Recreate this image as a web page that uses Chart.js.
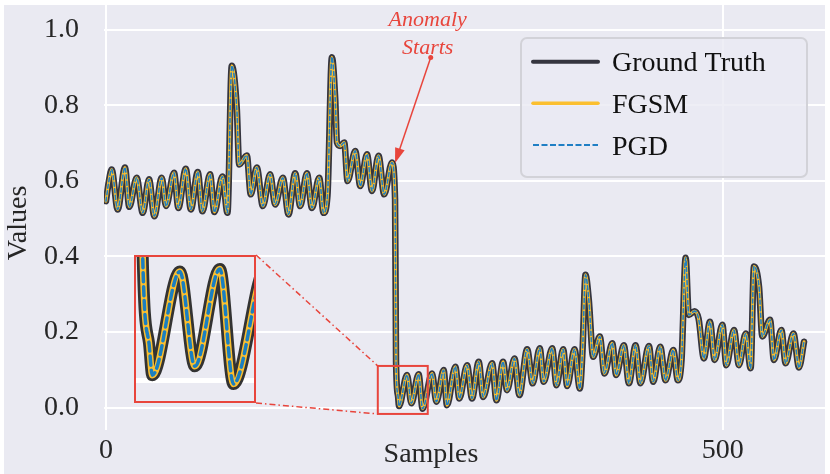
<!DOCTYPE html>
<html>
<head>
<meta charset="utf-8">
<script src="https://cdn.jsdelivr.net/npm/chart.js@4.4.0/dist/chart.umd.min.js"></script>
<style>
  html, body { margin: 0; padding: 0; background: #fff; }
  #wrap { position: relative; width: 830px; height: 474px; }
  #main { position: absolute; left: 0; top: 0; width: 830px; height: 474px; }
  #inset { position: absolute; }
</style>
</head>
<body>
<div id="wrap">
  <canvas id="main" width="830" height="474"></canvas>
  <canvas id="inset"></canvas>
</div>
<script>
/* data: turning points of the signal */
var samples = [
  0, 2.4, 4.6, 9.5, 15.4, 18.9, 24.9, 29.8, 34.9, 39.2, 45.2, 48.7, 55.2, 58.7, 64.7, 68.8,
  74.4, 78.2, 84.4, 87.9, 94.4, 98.5, 102.0, 106.1, 108.0, 114.2, 117.4, 122.3, 127.2, 133.1,
  137.2, 143.4, 148.0, 153.4, 157.5, 162.9, 167.0, 172.9, 176.4, 179.6, 183.2, 185.9, 187.3,
  189.9, 193.2, 195.9, 202.1, 206.2, 211.6, 215.7, 221.0, 225.6, 231.9, 234.4, 235.2, 236.8,
  237.6, 244.1, 247.6, 253.5, 256.7, 264.4, 267.9, 273.8, 276.5, 283.3, 286.5, 292.8, 296.8,
  302.2, 305.8, 313.1, 316.6, 322.0, 325.2, 331.2, 335.2, 341.5, 346.0, 351.7, 354.9, 361.8,
  365.3, 370.7, 374.0, 379.9, 384.2, 386.4, 388.8, 391.5, 395.0, 400.4, 404.2, 410.5, 413.7,
  419.9, 424.0, 429.4, 433.4, 440.2, 443.7, 449.4, 453.7, 460.0, 463.7, 466.7, 470.0, 472.6,
  477.3, 480.5, 484.8, 489.7, 493.5, 499.8, 503.0, 509.2, 513.2, 518.7, 522.7, 525.4, 529.5,
  532.2, 538.4, 541.6, 547.6, 551.1, 557.4, 561.9, 566.0
];
var groundTruth = [
  0.546, 0.600, 0.630, 0.524, 0.635, 0.531, 0.608, 0.515, 0.604, 0.506, 0.608, 0.533, 0.621, 0.528, 0.632, 0.524,
  0.623, 0.519, 0.617, 0.517, 0.611, 0.515, 0.904, 0.790, 0.643, 0.667, 0.564, 0.635, 0.533, 0.617,
  0.537, 0.608, 0.511, 0.620, 0.533, 0.620, 0.528, 0.608, 0.515, 0.560, 0.927, 0.816, 0.701,
  0.692, 0.701, 0.599, 0.679, 0.586, 0.670, 0.573, 0.666, 0.564, 0.648, 0.550, 0.120, 0.030,
  0.004, 0.086, 0.011, 0.088, -0.003, 0.090, 0.015, 0.099, 0.006, 0.108, 0.024, 0.112, 0.024,
  0.121, 0.028, 0.117, 0.019, 0.121, 0.046, 0.130, 0.033, 0.154, 0.064, 0.157, 0.068, 0.157,
  0.059, 0.154, 0.057, 0.154, 0.050, 0.150, 0.351, 0.285, 0.134, 0.188, 0.090, 0.170, 0.086,
  0.165, 0.064, 0.165, 0.064, 0.163, 0.068, 0.161, 0.072, 0.152, 0.072, 0.126, 0.396, 0.245,
  0.255, 0.235, 0.130, 0.227, 0.126, 0.219, 0.112, 0.205, 0.112, 0.196, 0.104, 0.373, 0.320,
  0.188, 0.232, 0.126, 0.205, 0.117, 0.196, 0.106, 0.174
];
// both attacks sit on top of the ground truth at this resolution
var fgsm = groundTruth.slice();
var pgd = groundTruth.slice();

var xTicks = [0, 500];
var yTicks = [0, 0.2, 0.4, 0.6, 0.8, 1.0];

var anomalyPoint = {x: 234.4, y: 0.647};
var anomalyLabel = {x: 263.3, y: 0.926};
var zoomBox = {xMin: 220.4, xMax: 260.9, yMin: -0.017, yMax: 0.11};
var insetLimits = {xMin: 233.3, xMax: 262, yMin: -0.018, yMax: 0.099};
var insetBox = {left: 134, top: 255, width: 122, height: 148};

var RED = '#e8453c';
var SERIF = "'Liberation Serif', 'Times New Roman', serif";

function toPts(ys) {
  return samples.map(function(s, i) { return {x: s, y: ys[i]}; });
}

function rrect(ctx, x, y, w, h, r) {
  ctx.beginPath();
  ctx.moveTo(x + r, y);
  ctx.lineTo(x + w - r, y);
  ctx.arcTo(x + w, y, x + w, y + r, r);
  ctx.lineTo(x + w, y + h - r);
  ctx.arcTo(x + w, y + h, x + w - r, y + h, r);
  ctx.lineTo(x + r, y + h);
  ctx.arcTo(x, y + h, x, y + h - r, r);
  ctx.lineTo(x, y + r);
  ctx.arcTo(x, y, x + r, y, r);
  ctx.closePath();
}

var bgPlugin = {
  id: 'bg',
  beforeDraw: function(chart) {
    var ctx = chart.ctx;
    ctx.save();
    ctx.fillStyle = '#eaeaf2';
    ctx.fillRect(4, 5, 821, 469);
    ctx.restore();
  }
};

var overlayPlugin = {
  id: 'overlay',
  afterDraw: function(chart) {
    var ctx = chart.ctx, xs = chart.scales.x, ys = chart.scales.y;
    ctx.save();

    // zoom rectangle + connectors to inset
    var rx0 = xs.getPixelForValue(zoomBox.xMin), rx1 = xs.getPixelForValue(zoomBox.xMax);
    var ry0 = ys.getPixelForValue(zoomBox.yMax), ry1 = ys.getPixelForValue(zoomBox.yMin);
    ctx.strokeStyle = RED;
    ctx.lineWidth = 2;
    ctx.strokeRect(rx0, ry0, rx1 - rx0, ry1 - ry0);
    ctx.lineWidth = 1.5;
    ctx.setLineDash([6, 3, 1.5, 3]);
    ctx.beginPath();
    ctx.moveTo(insetBox.left + insetBox.width, insetBox.top);
    ctx.lineTo(rx0, ry0);
    ctx.moveTo(insetBox.left + insetBox.width, insetBox.top + insetBox.height);
    ctx.lineTo(rx0, ry1);
    ctx.stroke();
    ctx.setLineDash([]);

    // annotation arrow
    var tx = xs.getPixelForValue(anomalyLabel.x), ty = ys.getPixelForValue(anomalyLabel.y);
    var hx = xs.getPixelForValue(anomalyPoint.x), hy = ys.getPixelForValue(anomalyPoint.y);
    var ang = Math.atan2(hy - ty, hx - tx);
    ctx.strokeStyle = RED;
    ctx.fillStyle = RED;
    ctx.lineWidth = 1.5;
    ctx.beginPath();
    ctx.moveTo(tx, ty);
    ctx.lineTo(hx - 12 * Math.cos(ang), hy - 12 * Math.sin(ang));
    ctx.stroke();
    ctx.beginPath();
    ctx.moveTo(hx, hy);
    ctx.lineTo(hx - 15 * Math.cos(ang) + 5 * Math.sin(ang), hy - 15 * Math.sin(ang) - 5 * Math.cos(ang));
    ctx.lineTo(hx - 15 * Math.cos(ang) - 5 * Math.sin(ang), hy - 15 * Math.sin(ang) + 5 * Math.cos(ang));
    ctx.closePath();
    ctx.fill();
    ctx.beginPath();
    ctx.arc(tx, ty, 2.5, 0, Math.PI * 2);
    ctx.fill();
    ctx.font = 'italic 22px ' + SERIF;
    ctx.textAlign = 'center';
    ctx.textBaseline = 'alphabetic';
    ctx.fillText('Anomaly', tx - 3, ty - 32);
    ctx.fillText('Starts', tx - 3, ty - 4);

    // axis titles
    ctx.fillStyle = '#262626';
    ctx.font = '28px ' + SERIF;
    ctx.fillText('Samples', 431, 462);
    ctx.save();
    ctx.translate(26, 223);
    ctx.rotate(-Math.PI / 2);
    ctx.fillText('Values', 0, 0);
    ctx.restore();

    // legend
    rrect(ctx, 521, 38, 286, 139, 6);
    ctx.fillStyle = 'rgba(234,234,242,0.8)';
    ctx.fill();
    ctx.strokeStyle = '#d2d2d8';
    ctx.lineWidth = 2;
    ctx.stroke();
    var rows = [61.7, 103.3, 145];
    var legW = [4, 3.5, 2];
    chart.data.datasets.forEach(function(ds, i) {
      ctx.strokeStyle = ds.borderColor;
      ctx.lineWidth = legW[i];
      ctx.lineCap = i === 2 ? 'butt' : 'round';
      ctx.setLineDash(i === 2 ? [6, 2.5] : []);
      ctx.beginPath();
      ctx.moveTo(533, rows[i]);
      ctx.lineTo(598, rows[i]);
      ctx.stroke();
      ctx.setLineDash([]);
      ctx.fillStyle = '#111';
      ctx.textAlign = 'left';
      ctx.fillText(ds.label, 612, rows[i] + 9.5);
    });
    ctx.restore();
  }
};

new Chart(document.getElementById('main'), {
  type: 'line',
  data: {
    datasets: [
      {label: 'Ground Truth', data: toPts(groundTruth), borderColor: '#35353f', borderWidth: 6.5, order: 3},
      {label: 'FGSM', data: toPts(fgsm), borderColor: '#fbbf2f', borderWidth: 3, order: 2},
      {label: 'PGD', data: toPts(pgd), borderColor: '#1f7fc4', borderWidth: 1.6, borderDash: [4, 2.5], order: 1}
    ]
  },
  options: {
    responsive: false,
    animation: false,
    devicePixelRatio: 1,
    layout: {padding: {left: 0, right: 5, top: 5, bottom: 0}},
    elements: {
      line: {cubicInterpolationMode: 'monotone', borderJoinStyle: 'round', borderCapStyle: 'round', fill: false},
      point: {radius: 0}
    },
    plugins: {legend: {display: false}, tooltip: {enabled: false}},
    scales: {
      x: {
        type: 'linear', min: -1.6, max: 583,
        afterFit: function(s) { s.height = 44; s.paddingLeft = 0; s.paddingRight = 0; },
        afterBuildTicks: function(s) { s.ticks = xTicks.map(function(v) { return {value: v}; }); },
        grid: {color: '#ffffff', lineWidth: 2, drawTicks: false},
        border: {display: false},
        ticks: {padding: 4, color: '#262626', font: {family: SERIF, size: 28}, callback: function(v) { return String(v); }}
      },
      y: {
        min: -0.0595, max: 1.065,
        afterFit: function(s) { s.width = 104; s.paddingTop = 0; s.paddingBottom = 0; },
        afterBuildTicks: function(s) { s.ticks = yTicks.map(function(v) { return {value: v}; }); },
        grid: {color: '#ffffff', lineWidth: 2, drawTicks: false},
        border: {display: false},
        ticks: {padding: 25, color: '#262626', font: {family: SERIF, size: 28}, callback: function(v) { return v.toFixed(1); }}
      }
    }
  },
  plugins: [bgPlugin, overlayPlugin]
});

/* zoomed inset */
var insetCanvas = document.getElementById('inset');
insetCanvas.width = insetBox.width;
insetCanvas.height = insetBox.height;
insetCanvas.style.left = insetBox.left + 'px';
insetCanvas.style.top = insetBox.top + 'px';
insetCanvas.style.width = insetBox.width + 'px';
insetCanvas.style.height = insetBox.height + 'px';

new Chart(insetCanvas, {
  type: 'line',
  data: {
    datasets: [
      {data: toPts(groundTruth), borderColor: '#333333', borderWidth: 12, order: 3},
      {data: toPts(fgsm), borderColor: '#fbbf2f', borderWidth: 6.5, order: 2},
      {data: toPts(pgd), borderColor: '#1a7fc1', borderWidth: 3.5, borderDash: [9, 5], order: 1}
    ]
  },
  options: {
    responsive: false,
    animation: false,
    devicePixelRatio: 1,
    layout: {padding: 0},
    elements: {
      line: {cubicInterpolationMode: 'monotone', borderJoinStyle: 'round', borderCapStyle: 'round', fill: false},
      point: {radius: 0}
    },
    plugins: {legend: {display: false}, tooltip: {enabled: false}},
    scales: {
      x: {type: 'linear', min: insetLimits.xMin, max: insetLimits.xMax, display: false},
      y: {
        min: insetLimits.yMin, max: insetLimits.yMax,
        afterFit: function(s) { s.width = 0; s.paddingTop = 0; s.paddingBottom = 0; },
        afterBuildTicks: function(s) { s.ticks = [{value: 0}]; },
        ticks: {display: false},
        grid: {color: '#ffffff', lineWidth: 5, drawTicks: false},
        border: {display: false}
      }
    }
  },
  plugins: [{
    id: 'insetFrame',
    afterDraw: function(chart) {
      var ctx = chart.ctx;
      ctx.save();
      ctx.strokeStyle = RED;
      ctx.lineWidth = 2;
      ctx.strokeRect(1, 1, chart.width - 2, chart.height - 2);
      ctx.restore();
    }
  }]
});
</script>
</body>
</html>
